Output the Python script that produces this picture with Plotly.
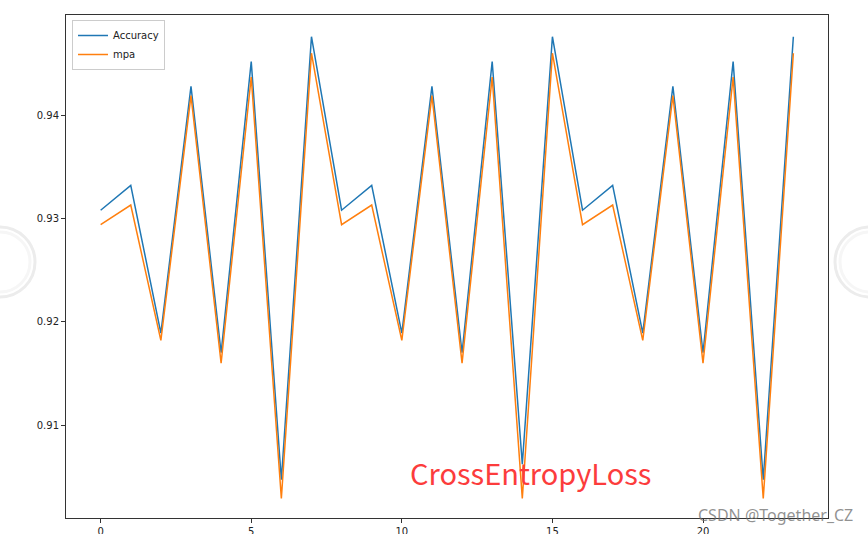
import plotly.graph_objects as go

epochs = list(range(24))
accuracy = [0.9308, 0.9332, 0.9189, 0.9428, 0.9170, 0.9452, 0.9047, 0.9476,
            0.9308, 0.9332, 0.9189, 0.9428, 0.9170, 0.9452, 0.9062, 0.9476,
            0.9308, 0.9332, 0.9189, 0.9428, 0.9170, 0.9452, 0.9047, 0.9476]
mpa = [0.9294, 0.9313, 0.9182, 0.9419, 0.9160, 0.9437, 0.9029, 0.9460,
       0.9294, 0.9313, 0.9182, 0.9419, 0.9160, 0.9437, 0.9029, 0.9460,
       0.9294, 0.9313, 0.9182, 0.9419, 0.9160, 0.9437, 0.9029, 0.9460]
x_ticks = [0, 5, 10, 15, 20]
y_ticks = [0.91, 0.92, 0.93, 0.94]
y_tick_labels = ["0.91", "0.92", "0.93", "0.94"]

W, H = 868, 534
L, R, T, B = 66, 40, 15, 16
pw, ph = W - L - R, H - T - B

def px(x):
    return (x - L) / pw

def py(y):
    return (H - B - y) / ph

fig = go.Figure()
fig.add_trace(go.Scatter(x=epochs, y=accuracy, mode="lines", name="Accuracy",
                         line=dict(color="#1f77b4", width=1.5)))
fig.add_trace(go.Scatter(x=epochs, y=mpa, mode="lines", name="mpa",
                         line=dict(color="#ff7f0e", width=1.5)))

axis_common = dict(showgrid=False, zeroline=False, showline=True, linecolor="#333333",
                   linewidth=1, mirror=True, ticks="outside", ticklen=4, tickcolor="#333333",
                   automargin=False,
                   tickfont=dict(family="DejaVu Sans", size=10, color="#222222"))
fig.update_xaxes(range=[-1.15, 24.15], tickvals=x_ticks, **axis_common)
fig.update_yaxes(range=[0.9010, 0.9497], tickvals=y_ticks, ticktext=y_tick_labels, **axis_common)

# watermark circles
for cx in [0, 870]:
    for r, col in [(35, "#ececec"), (30, "#f6f6f6")]:
        fig.add_shape(type="circle", xref="paper", yref="paper",
                      x0=px(cx - r), x1=px(cx + r), y0=py(262 + r), y1=py(262 - r),
                      line=dict(color=col, width=3), layer="below")

fig.add_annotation(x=px(530), y=py(472), xref="paper", yref="paper",
                   xanchor="center", yanchor="middle",
                   text="CrossEntropyLoss", showarrow=False,
                   font=dict(family="Noto Sans CJK SC", size=29, color="#fc3c3c"))
fig.add_annotation(x=px(775), y=py(515), xref="paper", yref="paper",
                   xanchor="center", yanchor="middle",
                   text="CSDN @Together_CZ", showarrow=False,
                   font=dict(family="Noto Sans", size=16, color="rgba(110,110,110,0.75)"))

fig.update_layout(
    width=W, height=H,
    margin=dict(l=L, r=R, t=T, b=B),
    paper_bgcolor="white", plot_bgcolor="white",
    showlegend=True,
    legend=dict(x=px(72), y=py(20), xanchor="left", yanchor="top",
                bgcolor="rgba(255,255,255,0.8)", bordercolor="#cccccc", borderwidth=1,
                font=dict(family="DejaVu Sans", size=10, color="#222222"),
                itemwidth=30, tracegroupgap=0),
)

fig.write_html("out.html", config={"displayModeBar": False},
               post_script="document.body.style.margin='0';document.body.style.overflow='hidden';")
